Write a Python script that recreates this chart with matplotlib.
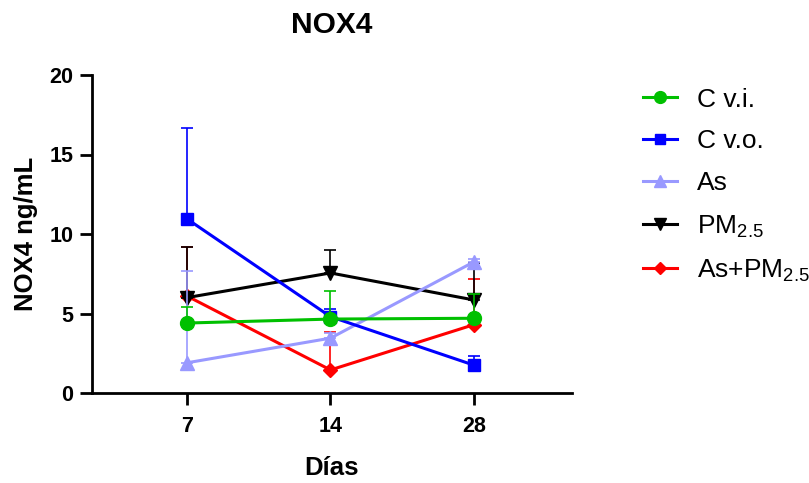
import matplotlib
matplotlib.use("Agg")
import matplotlib.pyplot as plt
import numpy as np

plt.rcParams['font.family'] = ['Liberation Sans', 'DejaVu Sans']
plt.rcParams['mathtext.default'] = 'regular'

days = ["7", "14", "28"]
series = ["C v.i.", "C v.o.", "As", "PM$_{2.5}$", "As+PM$_{2.5}$"]
cvi = [4.4, 4.65, 4.7]
cvi_err = [1.0, 1.75, 1.5]
cvo = [10.95, 4.8, 1.75]
cvo_err = [5.7, 0.5, 0.55]
as_ = [1.9, 3.45, 8.25]
as_err = [5.8, 0.3, 0.2]
pm = [6.0, 7.55, 5.85]
pm_err = [3.2, 1.45, 2.35]
aspm = [6.1, 1.45, 4.3]
aspm_err = [3.1, 2.4, 2.85]

colors = ["#00C000", "#0000FF", "#9999FF", "#000000", "#FF0000"]
markers = ["o", "s", "^", "v", "D"]
msizes = [10, 9, 10, 10, 7.5]
values = [cvi, cvo, as_, pm, aspm]
errs = [cvi_err, cvo_err, as_err, pm_err, aspm_err]

fig = plt.figure(figsize=(8.09, 4.83), dpi=100)
ax = fig.add_axes([92/809, 1-393/483, (572-92)/809, (393-75)/483])
x = np.arange(len(days))
for i in range(len(series)):
    z = 10 - i
    ax.errorbar(x, values[i], yerr=[np.zeros(len(days)), errs[i]],
                color=colors[i], marker=markers[i], ms=msizes[i],
                lw=2.2, elinewidth=1.2, capsize=4.5, capthick=1.2,
                label=series[i], zorder=z)

ax.set_xlim(-0.662, 2.683)
ax.set_ylim(0, 20)
ax.set_yticks([0, 5, 10, 15, 20])
ax.set_xticks(x)
ax.set_xticklabels(days)
for s in ["top", "right"]:
    ax.spines[s].set_visible(False)
for s in ["left", "bottom"]:
    ax.spines[s].set_linewidth(2.0)
ax.tick_params(axis='both', length=8.5, width=2.0, labelsize=15.5)
ax.tick_params(axis='y', pad=5)
ax.tick_params(axis='x', pad=8)
for lab in ax.get_xticklabels() + ax.get_yticklabels():
    lab.set_fontweight('bold')

ax.set_title("NOX4", fontsize=21.5, fontweight='bold', pad=30)
ax.set_ylabel("NOX4 ng/mL", fontsize=18.5, fontweight='bold', labelpad=8)
ax.set_xlabel("Días", fontsize=18.5, fontweight='bold', labelpad=14)

leg_handles = [plt.Line2D([], [], color=colors[i], marker=markers[i],
                          ms=msizes[i] * 0.85, lw=2.2)
               for i in range(len(series))]
fig.legend(leg_handles, series, loc='upper left', bbox_to_anchor=(0.765, 0.868),
           frameon=False, fontsize=19, handlelength=1.3, handletextpad=0.75,
           labelspacing=0.68)

fig.savefig("out.png", dpi=100)
